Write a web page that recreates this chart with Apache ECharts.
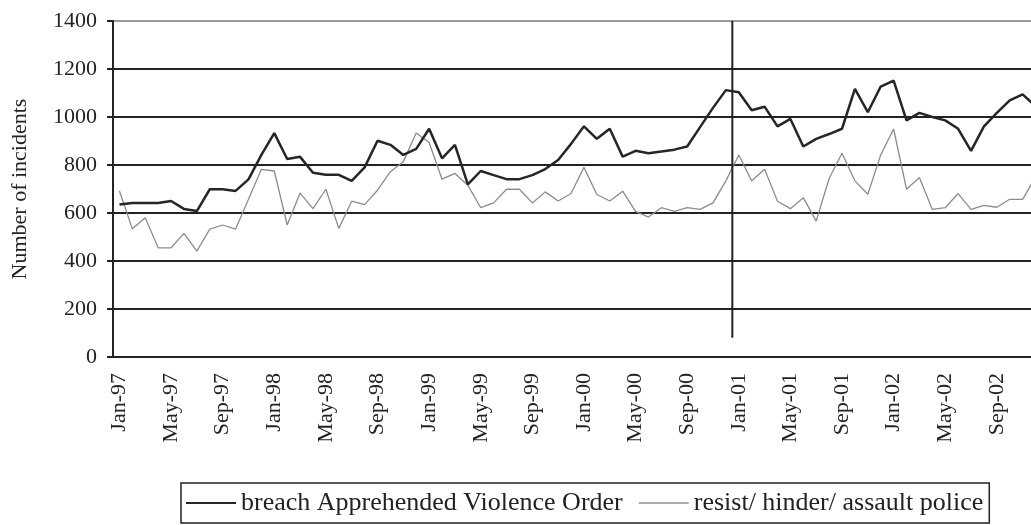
<!DOCTYPE html>
<html>
<head>
<meta charset="utf-8">
<script src="https://cdn.jsdelivr.net/npm/echarts@6/dist/echarts.min.js"></script>
<style>
  html, body { margin: 0; padding: 0; background: #fff; }
  #chart { width: 1031px; height: 525px; }
</style>
</head>
<body>
<div id="chart"></div>
<script>
// Monthly incident counts, Jan 1997 – Dec 2002
const monthNames = ['Jan', 'Feb', 'Mar', 'Apr', 'May', 'Jun', 'Jul', 'Aug', 'Sep', 'Oct', 'Nov', 'Dec'];
const years = ['97', '98', '99', '00', '01', '02'];

const breachAVO = [
  635, 642, 642, 642, 650, 617, 608, 699, 699, 692, 740, 842,
  933, 825, 834, 768, 759, 759, 734, 790, 901, 884, 842, 867,
  951, 828, 884, 719, 775, 758, 741, 741, 758, 783, 821, 888,
  961, 909, 951, 835, 859, 849, 856, 864, 877, 958, 1038, 1112,
  1103, 1028, 1043, 961, 992, 877, 909, 929, 951, 1117, 1020, 1127,
  1152, 986, 1017, 1000, 986, 951, 859, 961, 1017, 1069, 1094, 1045
];

const resistPolice = [
  692, 534, 580, 455, 455, 515, 441, 533, 550, 533, 657, 782,
  775, 550, 683, 618, 699, 536, 649, 635, 695, 772, 814, 933,
  894, 741, 765, 716, 622, 642, 699, 699, 642, 688, 650, 681,
  790, 677, 650, 691, 607, 583, 622, 607, 622, 615, 642, 734,
  842, 734, 782, 649, 618, 664, 566, 744, 849, 734, 678, 842,
  950, 699, 748, 615, 622, 681, 615, 632, 624, 657, 657, 750
];

// Vertical divider at the start of 2001 (month offset from Jan-97, value range)
const dividerMonth = 48;
const dividerRange = [80, 1400];

const yTicks = { min: 0, max: 1400, step: 200 };

const categories = [];
years.forEach(y => monthNames.forEach(m => categories.push(m + '-' + y)));

const FONT = 'Liberation Serif';
const INK = '#222';
const BLACK_LINE = '#262626';
const GREY_LINE = '#8c8c8c';

const chart = echarts.init(document.getElementById('chart'), null, { renderer: 'canvas' });

chart.setOption({
  animation: false,
  backgroundColor: '#fff',
  textStyle: { fontFamily: FONT, color: INK },
  grid: {
    left: 113, top: 21, width: 929, height: 336,
    containLabel: false,
    outerBoundsMode: 'none'
  },
  legend: {
    left: 181,
    top: 483,
    padding: [7, 6, 7, 5],
    borderColor: INK,
    borderWidth: 1.5,
    icon: 'rect',
    itemWidth: 50,
    itemHeight: 2,
    itemGap: 16,
    textStyle: { fontFamily: FONT, fontSize: 26, color: INK },
    data: [
      { name: 'breach Apprehended Violence Order', itemStyle: { color: BLACK_LINE } },
      { name: 'resist/ hinder/ assault police', itemStyle: { color: '#aaaaaa' } }
    ]
  },
  xAxis: [
    {
      type: 'category',
      data: categories,
      boundaryGap: true,
      axisLine: { lineStyle: { color: INK, width: 2 } },
      axisTick: { interval: 3, length: 6, lineStyle: { color: INK, width: 2 } },
      axisLabel: {
        interval: 3, rotate: 90, margin: 16,
        fontFamily: FONT, fontSize: 22, color: INK
      },
      splitLine: { show: false }
    },
    {
      type: 'value',
      min: 0,
      max: categories.length,
      show: false
    }
  ],
  yAxis: {
    type: 'value',
    min: yTicks.min,
    max: yTicks.max,
    interval: yTicks.step,
    name: 'Number of incidents',
    nameLocation: 'middle',
    nameGap: 82,
    nameRotate: 90,
    nameTextStyle: { fontFamily: FONT, fontSize: 22, color: INK },
    axisLine: { show: true, lineStyle: { color: INK, width: 2 } },
    axisTick: { show: true, length: 6, lineStyle: { color: INK, width: 2 } },
    axisLabel: {
      margin: 16, fontFamily: FONT, fontSize: 22, color: INK,
      formatter: v => String(v)
    },
    splitLine: {
      show: true,
      lineStyle: {
        color: [INK, INK, INK, INK, INK, INK, INK, '#9a9a9a'],
        width: 2
      }
    }
  },
  series: [
    {
      name: 'breach Apprehended Violence Order',
      type: 'line',
      data: breachAVO,
      symbol: 'none',
      z: 4,
      lineStyle: { color: BLACK_LINE, width: 2.5 },
      itemStyle: { color: BLACK_LINE }
    },
    {
      name: 'resist/ hinder/ assault police',
      type: 'line',
      data: resistPolice,
      symbol: 'none',
      z: 3,
      lineStyle: { color: GREY_LINE, width: 1.3 },
      itemStyle: { color: GREY_LINE }
    },
    {
      name: 'divider',
      type: 'line',
      xAxisIndex: 1,
      data: dividerRange.map(v => [dividerMonth, v]),
      symbol: 'none',
      z: 5,
      lineStyle: { color: INK, width: 2 },
      silent: true
    }
  ]
});
</script>
</body>
</html>
